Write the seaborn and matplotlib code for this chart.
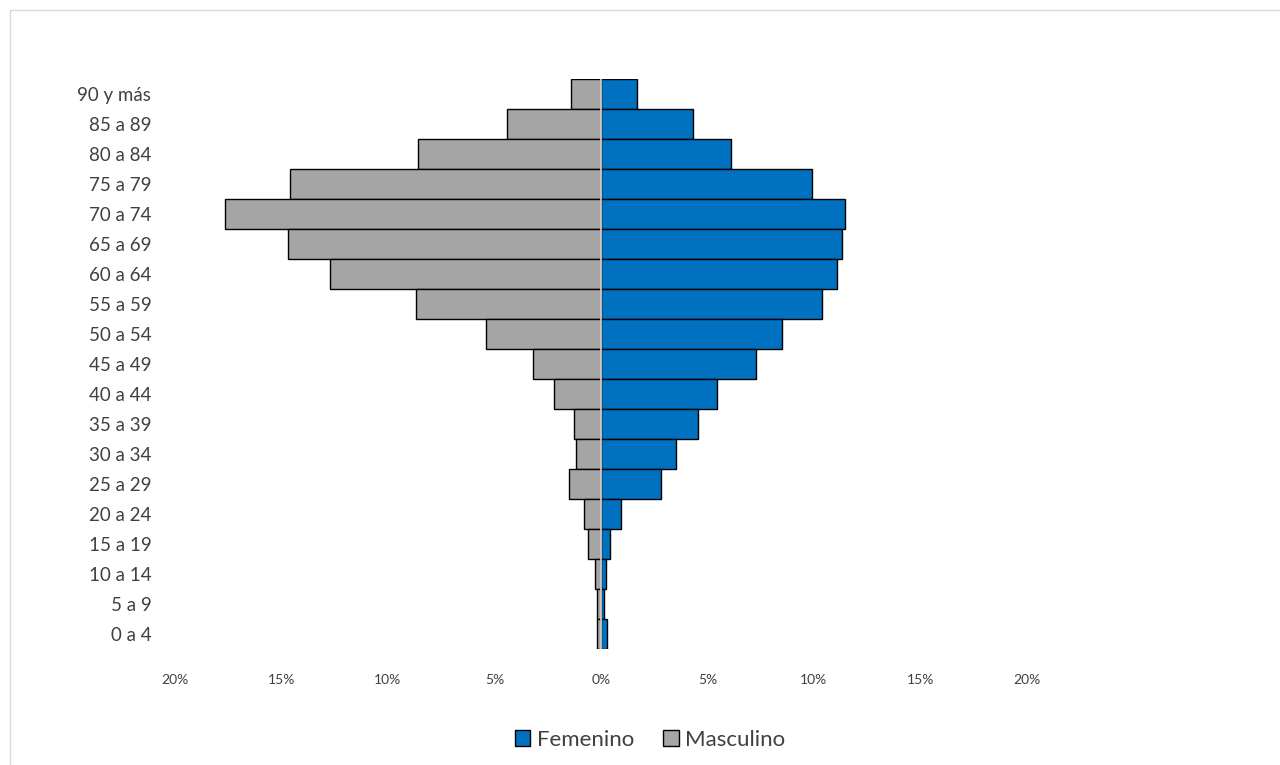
import numpy as np
import pandas as pd
import matplotlib
matplotlib.use("Agg")
import matplotlib.pyplot as plt
from matplotlib.patches import Patch, Rectangle
from matplotlib.ticker import FuncFormatter
import seaborn as sns

age_groups = ["90 y más", "85 a 89", "80 a 84", "75 a 79", "70 a 74", "65 a 69",
              "60 a 64", "55 a 59", "50 a 54", "45 a 49", "40 a 44", "35 a 39",
              "30 a 34", "25 a 29", "20 a 24", "15 a 19", "10 a 14", "5 a 9", "0 a 4"]
femenino = [1.7, 4.3, 6.1, 9.9, 11.45, 11.3, 11.1, 10.4, 8.5, 7.3, 5.45, 4.55,
            3.5, 2.8, 0.94, 0.42, 0.25, 0.15, 0.3]
masculino = [1.4, 4.4, 8.6, 14.6, 17.65, 14.7, 12.7, 8.7, 5.4, 3.2, 2.2, 1.27,
             1.17, 1.5, 0.8, 0.6, 0.28, 0.2, 0.2]
x_ticks = [-20, -15, -10, -5, 0, 5, 10, 15, 20]

blue = "#0070C0"
grey = "#A5A5A5"

sns.set_style("white")
plt.rcParams["font.family"] = ["Lato", "DejaVu Sans"]

df_f = pd.DataFrame({"grupo": age_groups, "pct": femenino})
df_m = pd.DataFrame({"grupo": age_groups, "pct": [-v for v in masculino]})

fig = plt.figure(figsize=(12.8, 7.65), dpi=100)
ax = fig.add_axes([0.1367, 0.1516, 0.6656, 0.745])

sns.barplot(data=df_m, x="pct", y="grupo", orient="h", order=age_groups, width=1.0,
            color=grey, edgecolor="black", linewidth=1.0, saturation=1, ax=ax)
sns.barplot(data=df_f, x="pct", y="grupo", orient="h", order=age_groups, width=1.0,
            color=blue, edgecolor="black", linewidth=1.0, saturation=1, ax=ax)

ax.axvline(0, color="#D9D9D9", linewidth=1.2, zorder=5)

ax.set_xlim(-20, 20)
ax.set_ylim(len(age_groups) - 0.5, -0.5)
ax.set_xticks(x_ticks)
ax.xaxis.set_major_formatter(FuncFormatter(lambda v, p: f"{abs(int(v))}%"))
ax.tick_params(axis="x", labelsize=10, colors="#404040", length=0, pad=18)
ax.tick_params(axis="y", labelsize=13.5, colors="#404040", length=0, pad=17)
ax.set_xlabel("")
ax.set_ylabel("")
for s in ax.spines.values():
    s.set_visible(False)

handles = [Patch(facecolor=blue, edgecolor="black", label="Femenino"),
           Patch(facecolor=grey, edgecolor="black", label="Masculino")]
fig.legend(handles=handles, loc="center", bbox_to_anchor=(0.508, 0.033), ncol=2,
           frameon=False, fontsize=16, handlelength=0.7, handleheight=0.7,
           handletextpad=0.3, columnspacing=1.3, labelcolor="#404040")

fig.patches.append(Rectangle((10 / 1280, -0.01), 1.0, 1 - 10 / 765 + 0.01,
                             transform=fig.transFigure, fill=False,
                             edgecolor="#D9D9D9", linewidth=1.0))

fig.savefig("out.png", dpi=100)
